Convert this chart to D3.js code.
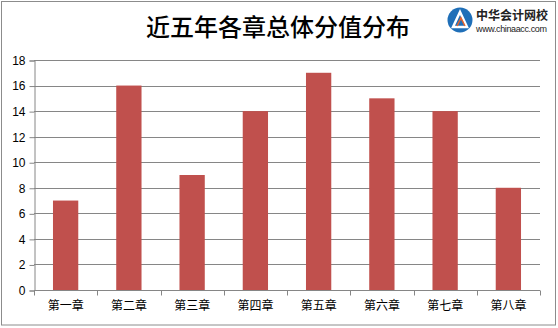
<!DOCTYPE html>
<html>
<head>
<meta charset="utf-8">
<script src="https://cdn.jsdelivr.net/npm/d3@7/dist/d3.min.js"></script>
<style>
  body { margin: 0; background: #fff; }
</style>
</head>
<body>
<div id="chart"></div>
<script>
var chapters = ["第一章","第二章","第三章","第四章","第五章","第六章","第七章","第八章"];
var scores = [7, 16, 9, 14, 17, 15, 14, 8];
var yTicks = [0, 2, 4, 6, 8, 10, 12, 14, 16, 18];
var title = "近五年各章总体分值分布";

var W = 558, H = 328;
var plotLeft = 34, plotRight = 540, plotTop = 60, plotBottom = 290;

var svg = d3.select("#chart").append("svg")
  .attr("width", W).attr("height", H);

// outer frame
svg.append("rect")
  .attr("x", 1.5).attr("y", 1.5)
  .attr("width", 554).attr("height", 323.5)
  .attr("fill", "#fff").attr("stroke", "#8c8c8c").attr("stroke-width", 1);

var x = d3.scaleBand().domain(chapters).range([plotLeft, plotRight]).paddingInner(0.6).paddingOuter(0.3);
var xb = d3.scaleBand().domain(chapters).range([plotLeft, plotRight]);
var y = d3.scaleLinear().domain([0, 18]).range([plotBottom, plotTop]);

// gridlines
svg.append("g").selectAll("line").data(yTicks.filter(function(d){ return d > 0; })).enter()
  .append("line")
  .attr("x1", plotLeft).attr("x2", plotRight)
  .attr("y1", function(d){ return Math.round(y(d)) + 0.5; })
  .attr("y2", function(d){ return Math.round(y(d)) + 0.5; })
  .attr("stroke", "#868686").attr("stroke-width", 1);

// bars
svg.append("g").selectAll("rect").data(scores).enter()
  .append("rect")
  .attr("x", function(d, i){ return x(chapters[i]); })
  .attr("y", function(d){ return y(d); })
  .attr("width", x.bandwidth())
  .attr("height", function(d){ return plotBottom - y(d); })
  .attr("fill", "#C0504D");

// y axis
var yAxis = svg.append("g")
  .attr("transform", "translate(" + (plotLeft + 0.5) + ",0.5)")
  .call(d3.axisLeft(y).tickValues(yTicks).tickSize(5).tickPadding(4));
yAxis.select(".domain").attr("stroke", "#868686");
yAxis.selectAll(".tick line").attr("stroke", "#868686");
yAxis.selectAll("text")
  .attr("font-family", "Liberation Sans, Arial, sans-serif")
  .attr("font-size", "12px").attr("fill", "#000");

// x axis
var xAxis = svg.append("g")
  .attr("transform", "translate(0," + (plotBottom + 0.5) + ")")
  .call(d3.axisBottom(xb).tickSize(0).tickPadding(11));
xAxis.select(".domain").attr("stroke", "#868686").attr("d", "M" + plotLeft + ",0H" + plotRight);
xAxis.selectAll("text")
  .attr("font-family", "Noto Sans CJK SC, sans-serif")
  .attr("font-size", "12px").attr("fill", "#000");
xAxis.append("g").selectAll("line").data(chapters.concat([""])).enter()
  .append("line")
  .attr("x1", function(d, i){ return Math.round(plotLeft + i * xb.step()) + 0.5; })
  .attr("x2", function(d, i){ return Math.round(plotLeft + i * xb.step()) + 0.5; })
  .attr("y1", 0).attr("y2", 5)
  .attr("stroke", "#868686");

// title
svg.append("text")
  .attr("x", 278).attr("y", 36)
  .attr("text-anchor", "middle")
  .attr("font-family", "Noto Sans CJK SC, sans-serif")
  .attr("font-weight", "500")
  .attr("font-size", "24px")
  .attr("fill", "#000")
  .text(title);

// logo
var logo = svg.append("g").attr("transform", "translate(460,20)");
logo.append("circle").attr("r", 12.5).attr("fill", "#1f6fb8");
logo.append("path").attr("d", "M-7,7 L0,-8 L7,7 Z").attr("fill", "none").attr("stroke", "#fff").attr("stroke-width", 2.5);
logo.append("path").attr("d", "M-3,6 L1,-2 L5,6").attr("fill", "none").attr("stroke", "#e8632b").attr("stroke-width", 1.5);
svg.append("text")
  .attr("x", 476).attr("y", 20)
  .attr("font-family", "Noto Sans CJK SC, sans-serif")
  .attr("font-weight", "bold").attr("font-size", "12px")
  .attr("textLength", 72)
  .attr("fill", "#222").text("中华会计网校");
svg.append("text")
  .attr("x", 476).attr("y", 32)
  .attr("font-family", "Liberation Sans Narrow, Liberation Sans, Arial, sans-serif")
  .attr("font-size", "9px").attr("textLength", 71)
  .attr("fill", "#222").text("www.chinaacc.com");
</script>
</body>
</html>
